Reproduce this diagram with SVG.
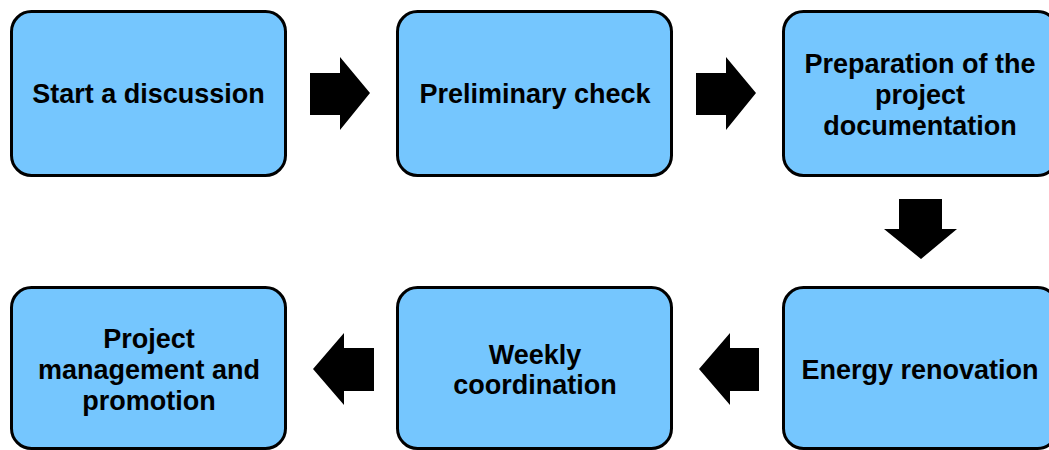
<svg xmlns="http://www.w3.org/2000/svg" width="1049" height="450" viewBox="0 0 1049 450">
<style>
.box{fill:#75c6fe;stroke:#000;stroke-width:3}
.t{font-family:"Liberation Sans",Arial,sans-serif;font-weight:bold;font-size:27px;fill:#000;text-anchor:middle}
.arr{fill:#000}
</style>
<rect width="1049" height="450" fill="#fff"/>
<g id="n1"><rect class="box" x="11.5" y="11.5" width="274" height="164" rx="20"/><text class="t" x="148.5" y="103">Start a discussion</text></g>
<g id="n2"><rect class="box" x="397.5" y="11.5" width="274" height="164" rx="20"/><text class="t" x="535" y="103">Preliminary check</text></g>
<g id="n3"><rect class="box" x="783.5" y="11.5" width="274" height="164" rx="20"/><text class="t" x="920" y="73">Preparation of the</text><text class="t" x="920" y="104">project</text><text class="t" x="920" y="135">documentation</text></g>
<g id="n4"><rect class="box" x="783.5" y="287.5" width="274" height="161" rx="20"/><text class="t" x="920" y="379">Energy renovation</text></g>
<g id="n5"><rect class="box" x="397.5" y="287.5" width="274" height="161" rx="20"/><text class="t" x="535" y="364">Weekly</text><text class="t" x="535" y="394">coordination</text></g>
<g id="n6"><rect class="box" x="11.5" y="287.5" width="274" height="161" rx="20"/><text class="t" x="149" y="348">Project</text><text class="t" x="149" y="379">management and</text><text class="t" x="149" y="410">promotion</text></g>
<g id="connectors">
<polygon class="arr" points="310,73 340,73 340,57 370,93 340,130 340,115 310,115"/>
<polygon class="arr" points="696,73 726,73 726,57 756,93 726,130 726,115 696,115"/>
<polygon class="arr" points="899,199 942,199 942,229 957,229 921,259 884,229 899,229"/>
<polygon class="arr" points="759,348 730,348 730,333 699,369 730,405 730,391 759,391"/>
<polygon class="arr" points="374,348 344,348 344,333 313,369 344,405 344,391 374,391"/>
</g>
</svg>
